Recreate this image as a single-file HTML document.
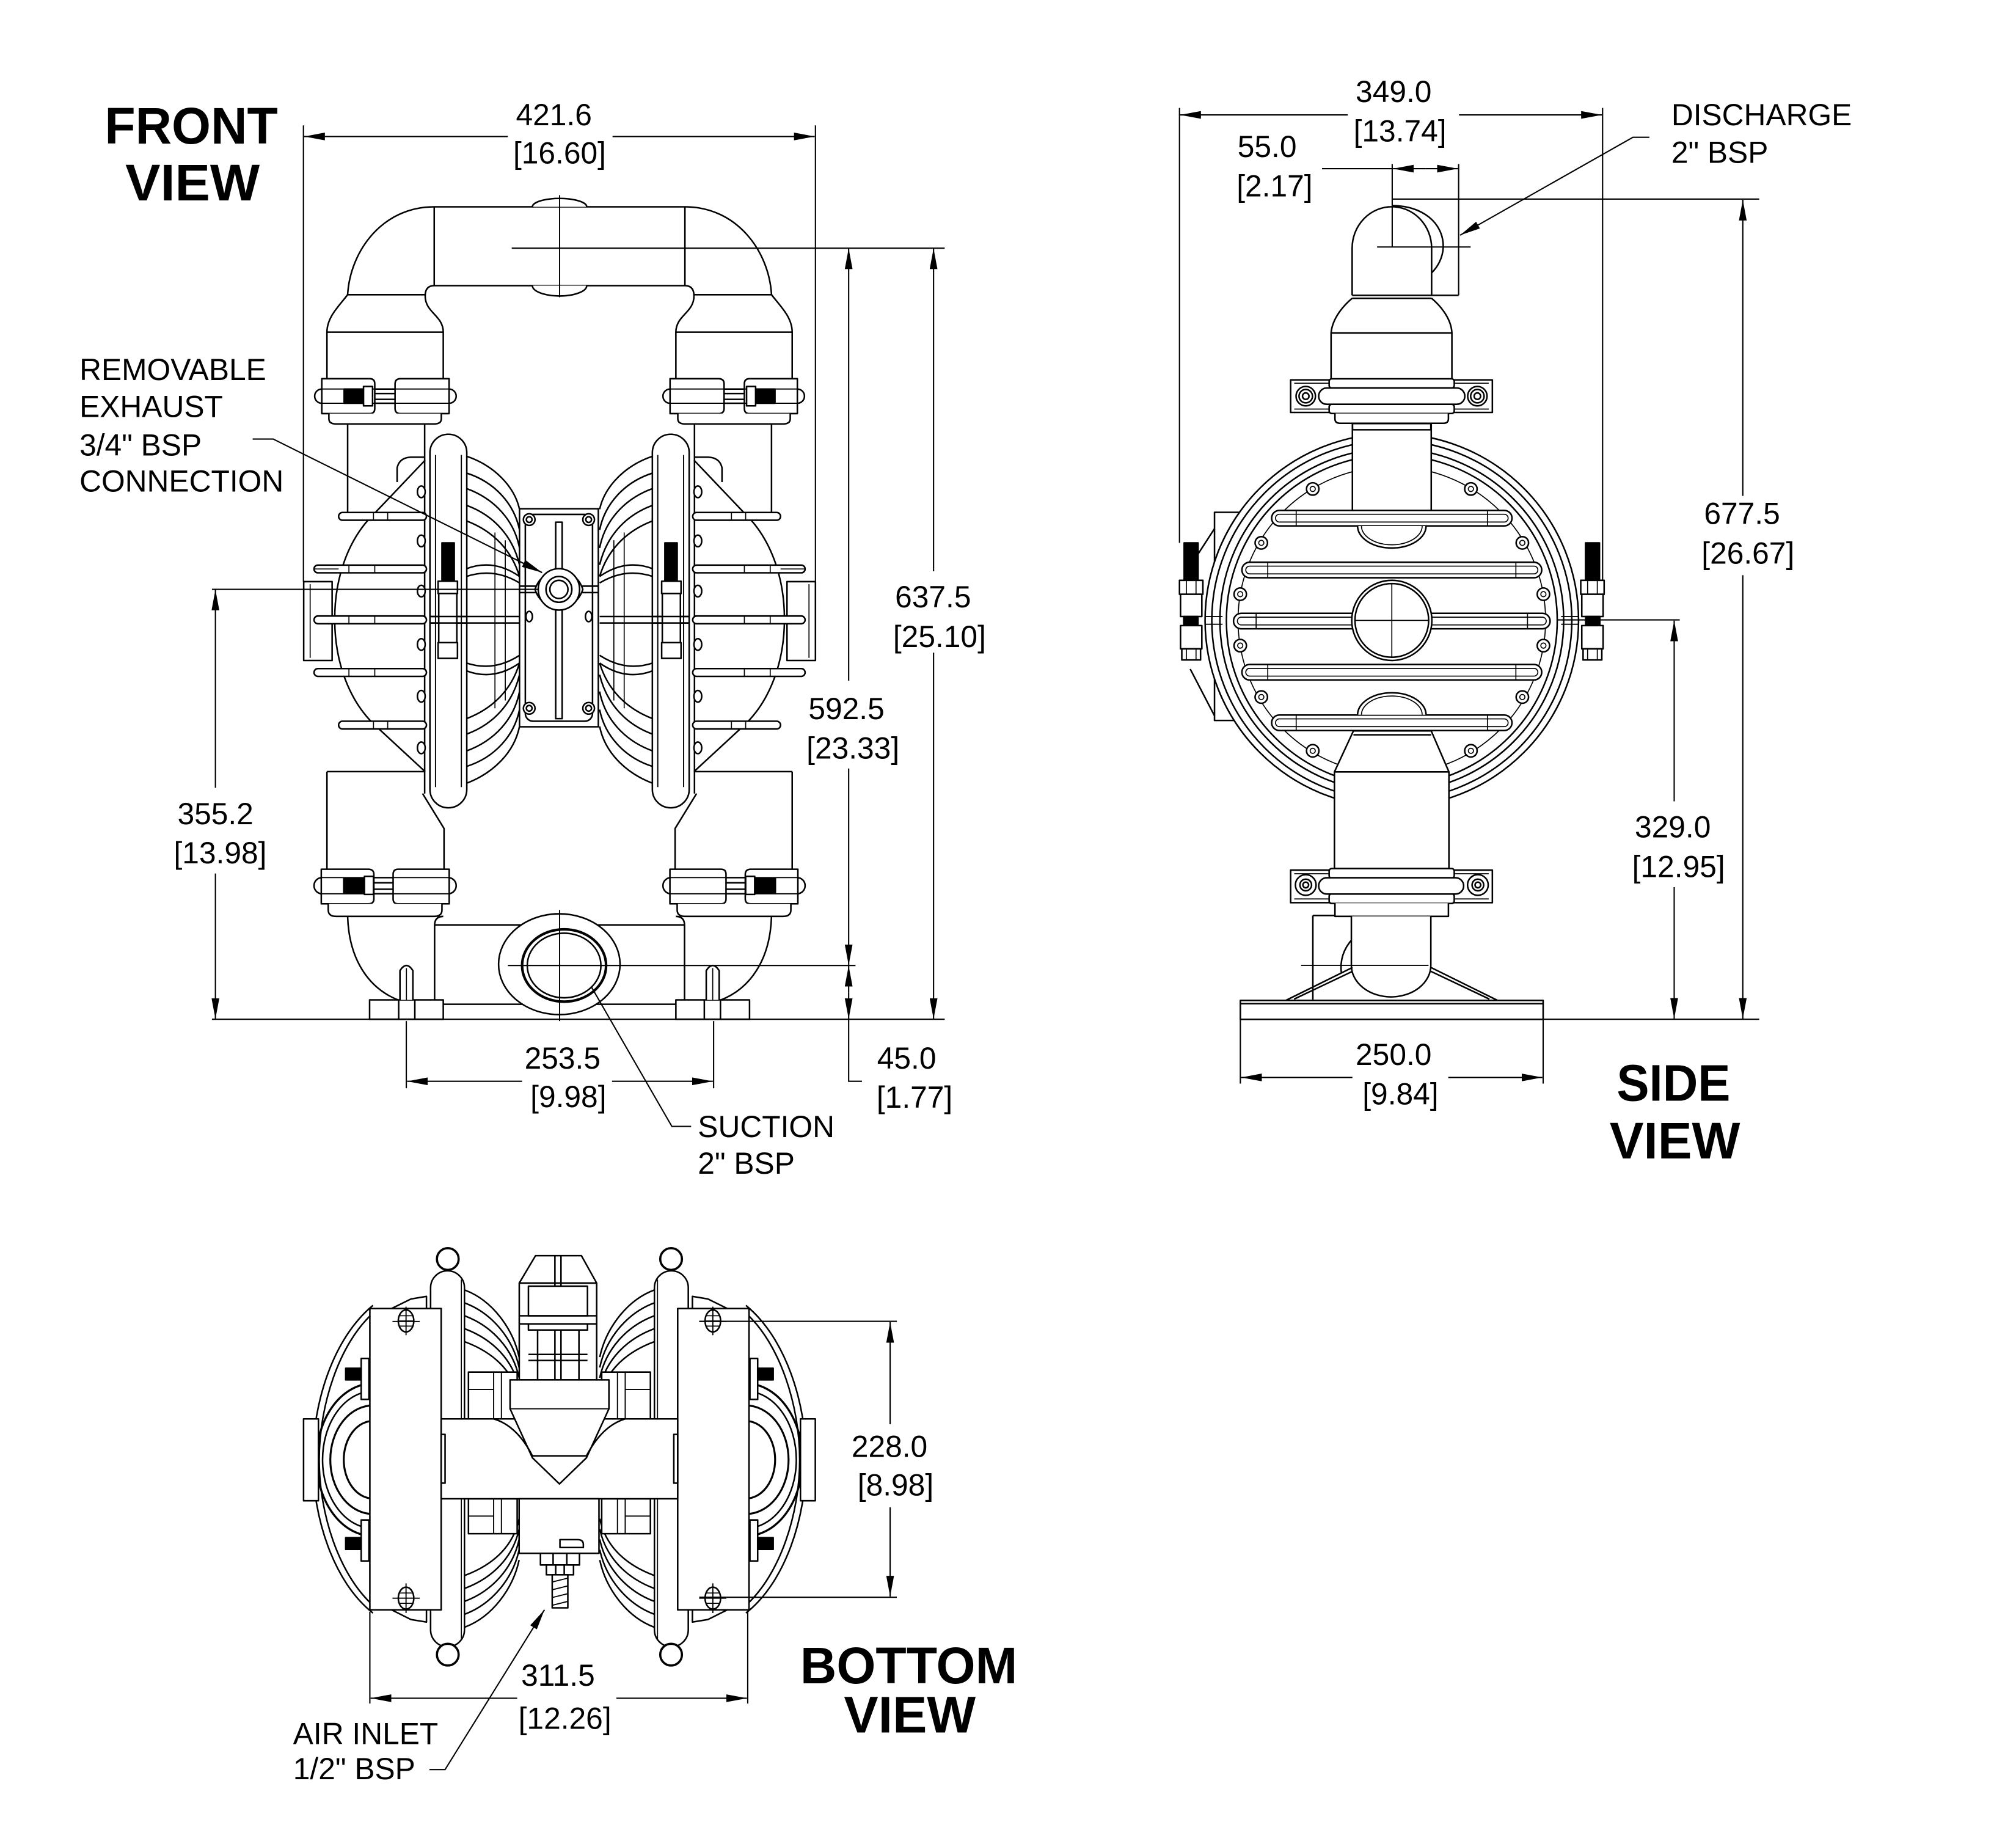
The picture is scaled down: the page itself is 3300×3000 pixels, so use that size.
<!DOCTYPE html>
<html><head><meta charset="utf-8"><style>
html,body{margin:0;padding:0;background:#fff}
svg{display:block}
text{font-family:"Liberation Sans",Arial,sans-serif;fill:#000;stroke:none}
.t{font-size:23.5px}
.ti{font-size:40px;font-weight:bold}
</style></head><body>
<svg width="3300" height="3000" viewBox="0 0 1560 1418.18" xmlns="http://www.w3.org/2000/svg">
<defs>
<marker id="a" viewBox="0 0 16 6" refX="16" refY="3" markerWidth="16" markerHeight="6" markerUnits="userSpaceOnUse" orient="auto"><path d="M0,0L16,3L0,6z" fill="#000" stroke="none"/></marker>
</defs>
<rect width="1560" height="1418.18" fill="#fff"/>

<g fill="none" stroke="#000" stroke-width="1.2" stroke-linejoin="round">

<!-- ================= FRONT VIEW ================= -->
<g id="FL">
 <path d="M433 160H336C296 160 271 194 269 228"/>
 <path d="M336 160V221"/>
 <path d="M433 221H336Q329 221 329 229C329 242 343 244 343 257"/>
 <path d="M269 228C263 236 253 245 253 257V293"/>
 <path d="M269 228H329M253 257H343V293"/>
 <!-- upper clamp -->
 <rect x="243.5" y="301" width="109.5" height="11" rx="5.5" fill="#fff"/>
 <path d="M249 293H286Q290 293 290 297V316Q290 320 286 320H249Z" fill="#fff"/>
 <path d="M347.5 293H310Q305.7 293 305.7 297V316Q305.7 320 310 320H347.5Z" fill="#fff"/>
 <path d="M249 301H290M249 312H290M347.5 301H305.7M347.5 312H305.7" stroke-width="0.9"/>
 <rect x="266.3" y="301" width="15" height="11" fill="#000"/>
 <rect x="281.3" y="299" width="7" height="15" fill="#fff"/>
 <path d="M290 304.5H305.7M290 309H305.7"/>
 <path d="M254.5 320V324Q254.5 328 260 328H336Q341.5 328 341.5 324V320" fill="#fff"/>
 <!-- neck & chamber -->
 <path d="M269 328V397"/>
 <path d="M328.6 328V614"/>
 <path d="M307.3 373V362Q309 354 318 353.7H329"/>
 <path d="M329 356L290 397C270 416 259 446 259 479C259 512 270 542 290 561L329 597"/>
 <rect x="235" y="450" width="22" height="61" fill="#fff"/>
 <path d="M240 452V509" stroke-width="0.8"/>
 <rect x="262" y="396.5" width="68" height="6" rx="3" fill="#fff"/>
 <rect x="243" y="437.2" width="87" height="6" rx="3" fill="#fff"/>
 <rect x="243" y="476.6" width="87" height="6" rx="3" fill="#fff"/>
 <rect x="243" y="517.3" width="87" height="6" rx="3" fill="#fff"/>
 <rect x="262" y="558" width="68" height="6" rx="3" fill="#fff"/>
 <path d="M289 396.5V402.5M300 396.5V402.5M262 440.2H243M270 437.2V443.2M290 437.2V443.2M270 476.6V482.6M290 476.6V482.6M270 517.3V523.3M290 517.3V523.3M289 558V564M300 558V564" stroke-width="0.8"/>
 <path d="M253 597H329M253 597V672"/>
 <path d="M327 614L343.6 641V672"/>
 <!-- bolts on flange -->
 <ellipse cx="326" cy="380.5" rx="3" ry="4.5" fill="#fff"/>
 <ellipse cx="326" cy="418.5" rx="3" ry="4.5" fill="#fff"/>
 <ellipse cx="326" cy="457.3" rx="3" ry="4.5" fill="#fff"/>
 <ellipse cx="326" cy="498.6" rx="3" ry="4.5" fill="#fff"/>
 <ellipse cx="326" cy="538.7" rx="3" ry="4.5" fill="#fff"/>
 <ellipse cx="326" cy="578.6" rx="3" ry="4.5" fill="#fff"/>
 <!-- dome ribs -->
 <path d="M361 353C382 360 398 376 402 394"/>
 <path d="M361 606C382 598 398 582 402 562"/>
 <path d="M361 366C383 373 398 390 402 410M361 378C383 386 398 403 402 424M361 391C383 399 397 416 402 437M361 403C382 411 396 426 402 446"/>
 <path d="M361 593C383 586 398 569 402 549M361 581C383 573 398 556 402 535M361 568C383 560 397 543 402 522M361 556C382 548 396 533 402 513"/>
 <path d="M361 440Q382 432 402 446M361 446Q382 439 402 451M361 519Q382 527 402 513M361 513Q382 520 402 507"/>
 <path d="M383 412V548M391 418V542" stroke-width="0.8"/>
 <path d="M333 477H402M333 482H402"/>
 <!-- ring -->
 <rect x="332.7" y="336" width="28.5" height="289" rx="14.2" fill="#fff"/>
 <path d="M337 352V609M357 352V609" stroke-width="0.9"/>
 <path d="M333 477H361M333 482H361"/>
 <!-- tie bolt -->
 <rect x="342" y="420" width="9.5" height="30" fill="#000"/>
 <rect x="339" y="449.7" width="15" height="9.5" fill="#fff"/>
 <rect x="339.5" y="459.2" width="14" height="38" fill="#fff"/>
 <path d="M333 477H361M333 482H361"/>
 <rect x="339" y="497.2" width="15" height="12.2" fill="#fff"/>
 <!-- lower clamp -->
 <rect x="243" y="679" width="110" height="12.5" rx="6.2" fill="#fff"/>
 <path d="M248.6 672.5H285Q289.3 672.5 289.3 676.5V695.5Q289.3 699.3 285 699.3H248.6Z" fill="#fff"/>
 <path d="M347.6 672.5H308Q304.2 672.5 304.2 676.5V695.5Q304.2 699.3 308 699.3H347.6Z" fill="#fff"/>
 <path d="M248.6 679H289.3M248.6 691.5H289.3M347.6 679H304.2M347.6 691.5H304.2" stroke-width="0.9"/>
 <rect x="266" y="679.5" width="16" height="11" fill="#000"/>
 <rect x="282" y="678" width="7" height="14" fill="#fff"/>
 <path d="M289.3 683H304.2M289.3 688H304.2"/>
 <path d="M254 699.3V704Q254 709 260 709H336Q342 709 342 704V699.3" fill="#fff"/>
 <!-- lower elbow -->
 <path d="M269 709C270 742 285 765 309 774"/>
 <path d="M343 709Q336.3 709 336.3 716V777"/>
 <path d="M336.3 715.6H433M343 777H433"/>
 <!-- foot -->
 <rect x="286" y="773.6" width="57" height="15" fill="#fff"/>
 <path d="M308.5 773.6V788.6M321 773.6V788.6"/>
 <path d="M309.5 773.6V751Q314.5 743 319.5 751V773.6" fill="#fff"/>
 <path d="M314.5 749V773.6" stroke-width="0.8"/>
</g>
<use href="#FL" transform="matrix(-1 0 0 1 866 0)"/>

<!-- top flange bumps & centerline -->
<path d="M412 160A21 6.5 0 0 1 454 160" fill="#fff"/>
<path d="M412 221A21 8 0 0 0 454 221" fill="#fff"/>
<path d="M433 151V230" stroke-width="0.9"/>

<!-- center block -->
<rect x="402" y="393.6" width="61" height="168.7" fill="#fff"/>
<rect x="406.5" y="398" width="52" height="160" rx="6"/>
<circle cx="409.5" cy="402" r="4.5" fill="#fff"/><circle cx="409.5" cy="402" r="2.2"/>
<circle cx="455.5" cy="402" r="4.5" fill="#fff"/><circle cx="455.5" cy="402" r="2.2"/>
<circle cx="409.5" cy="548" r="4.5" fill="#fff"/><circle cx="409.5" cy="548" r="2.2"/>
<circle cx="455.5" cy="548" r="4.5" fill="#fff"/><circle cx="455.5" cy="548" r="2.2"/>
<rect x="430" y="404" width="5" height="152"/>
<ellipse cx="409.5" cy="477" rx="2.5" ry="4"/>
<ellipse cx="455.5" cy="477" rx="2.5" ry="4"/>
<path d="M402 453.5H415M402 458.5H415M450 453.5H463M450 458.5H463"/>
<path d="M414 456C420 437 445 437 451 456C445 475 420 475 414 456Z" fill="#fff"/>
<circle cx="432.5" cy="456" r="16" fill="#fff"/>
<circle cx="432.5" cy="456" r="10"/>
<circle cx="432.5" cy="456" r="7"/>

<!-- suction port -->
<ellipse cx="432.8" cy="746" rx="47" ry="39" fill="#fff"/>
<ellipse cx="436.5" cy="747" rx="32.5" ry="28" fill="#fff" stroke-width="2"/>
<ellipse cx="436.5" cy="747" rx="28.5" ry="25"/>
<path d="M433 704V790" stroke-width="0.9"/>

<!-- ================= SIDE VIEW ================= -->
<path d="M939.8 396.4H962V557.4H939.8Z" fill="#fff"/>
<path d="M939.8 409L921 438M921 517.6L939.8 553.8"/>
<circle cx="1077" cy="480" r="144.5" fill="#fff"/>
<circle cx="1077" cy="480" r="139.3"/>
<circle cx="1077" cy="480" r="133"/>
<circle cx="1077" cy="480" r="128"/>
<circle cx="1077" cy="480" r="119" stroke-width="0.8"/>
<path d="M932.5 477H946M932.5 483H946M1208 477H1221.5M1208 483H1221.5" stroke-width="0.9"/>
<!-- top pipe -->
<rect x="1046.5" y="327.7" width="61" height="70" fill="#fff"/>
<!-- bolt ovals -->
<g fill="#fff">
<circle cx="1015.8" cy="378.3" r="4.8"/><circle cx="1138.2" cy="378.3" r="4.8"/>
<circle cx="976" cy="420" r="4.8"/><circle cx="1178" cy="420" r="4.8"/>
<circle cx="959.7" cy="459.7" r="4.8"/><circle cx="1194.3" cy="459.7" r="4.8"/>
<circle cx="959.7" cy="499.5" r="4.8"/><circle cx="1194.3" cy="499.5" r="4.8"/>
<circle cx="976" cy="539.3" r="4.8"/><circle cx="1178" cy="539.3" r="4.8"/>
<circle cx="1015.8" cy="580.9" r="4.8"/><circle cx="1138.2" cy="580.9" r="4.8"/>
</g>
<g stroke-width="0.8">
<circle cx="1015.8" cy="378.3" r="2"/><circle cx="1138.2" cy="378.3" r="2"/>
<circle cx="976" cy="420" r="2"/><circle cx="1178" cy="420" r="2"/>
<circle cx="959.7" cy="459.7" r="2"/><circle cx="1194.3" cy="459.7" r="2"/>
<circle cx="959.7" cy="499.5" r="2"/><circle cx="1194.3" cy="499.5" r="2"/>
<circle cx="976" cy="539.3" r="2"/><circle cx="1178" cy="539.3" r="2"/>
<circle cx="1015.8" cy="580.9" r="2"/><circle cx="1138.2" cy="580.9" r="2"/>
</g>
<!-- bars -->
<rect x="984" y="394.9" width="186" height="12" rx="6" fill="#fff"/>
<rect x="961" y="435" width="232" height="12" rx="6" fill="#fff"/>
<rect x="954.5" y="474.5" width="245" height="12" rx="6" fill="#fff"/>
<rect x="961" y="514.1" width="232" height="12" rx="6" fill="#fff"/>
<rect x="984" y="553.2" width="186" height="12" rx="6" fill="#fff"/>
<g stroke-width="0.8">
<rect x="987" y="397.9" width="180" height="6" rx="3"/>
<rect x="964" y="438" width="226" height="6" rx="3"/>
<rect x="957.5" y="477.5" width="239" height="6" rx="3"/>
<rect x="964" y="517.1" width="226" height="6" rx="3"/>
<rect x="987" y="556.2" width="180" height="6" rx="3"/>
<path d="M1003 394.9V406.9M1151 394.9V406.9M981 435V447M1173 435V447M972 474.5V486.5M1182 474.5V486.5M981 514.1V526.1M1173 514.1V526.1M1003 553.2V565.2M1151 553.2V565.2"/>
</g>
<!-- half discs and center circle -->
<path d="M1050.5 407A26.5 17 0 0 0 1103.5 407" fill="#fff"/>
<path d="M1053.5 407A23.5 14.5 0 0 0 1100.5 407" stroke-width="0.8"/>
<path d="M1050.5 553A26.5 17 0 0 1 1103.5 553" fill="#fff"/>
<path d="M1053.5 553A23.5 14.5 0 0 1 1100.5 553" stroke-width="0.8"/>
<circle cx="1077" cy="480" r="31" fill="#fff"/>
<circle cx="1077" cy="480" r="28.5"/>
<path d="M1077 451V509M1048 480H1106" stroke-width="0.8"/>
<!-- lower pipe -->
<path d="M1047.3 565.5H1107.5L1121.2 597.2V672H1032.6V597.2Z" fill="#fff"/>
<path d="M1032.6 597.2H1121.2M1047.3 568.5H1107.5" />
<!-- discharge top -->
<path d="M1077.4 159.1C1100 159 1117 172 1116.8 191C1116.5 200 1112 207 1107.8 211.1"/>
<path d="M1046.3 228.5V192A30.7 32 0 0 1 1107.8 192V228.5" fill="#fff"/>
<path d="M1046.3 228.5H1128.7M1046.3 230.8H1107.8"/>
<path d="M1046.3 230.8C1040 236 1031 246 1030 257.6V293.9M1107.8 230.8C1114 236 1123 246 1123.5 257.6V293.9M1030 257.6H1123.5"/>
<!-- upper side clamp -->
<rect x="998.7" y="293.9" width="156.1" height="25.2" fill="#fff"/>
<path d="M1001.5 296.5H1152M1001.5 316.5H1152" stroke-width="0.8"/>
<circle cx="1010.4" cy="306.5" r="7.5" fill="#fff"/><circle cx="1010.4" cy="306.5" r="5.2"/><circle cx="1010.4" cy="306.5" r="2.5"/>
<circle cx="1143.2" cy="306.5" r="7.5" fill="#fff"/><circle cx="1143.2" cy="306.5" r="5.2"/><circle cx="1143.2" cy="306.5" r="2.5"/>
<rect x="1028.5" y="293.1" width="96.8" height="7.1" rx="2" fill="#fff"/>
<rect x="1028.5" y="312.8" width="96.8" height="7.1" rx="2" fill="#fff"/>
<rect x="1020.4" y="300.2" width="113.1" height="12.6" rx="6.3" fill="#fff"/>
<path d="M1033 319.9V324Q1033 327.5 1037 327.5H1117Q1120.8 327.5 1120.8 324V319.9" fill="#fff"/>
<path d="M1046.6 327.7V332.5H1107.2V327.7"/>
<!-- lower side clamp -->
<rect x="998.7" y="673.2" width="156.1" height="25.2" fill="#fff"/>
<path d="M1001.5 676H1152M1001.5 695.5H1152" stroke-width="0.8"/>
<circle cx="1010.4" cy="684.7" r="8" fill="#fff"/><circle cx="1010.4" cy="684.7" r="4.5"/><circle cx="1010.4" cy="684.7" r="2.2"/>
<circle cx="1143.6" cy="684.7" r="8" fill="#fff"/><circle cx="1143.6" cy="684.7" r="4.5"/><circle cx="1143.6" cy="684.7" r="2.2"/>
<rect x="1028.5" y="672" width="96.8" height="7.5" rx="2" fill="#fff"/>
<rect x="1028.5" y="691.5" width="96.8" height="7.5" rx="2" fill="#fff"/>
<rect x="1020.4" y="679.1" width="112.2" height="12.6" rx="6.3" fill="#fff"/>
<path d="M1033 698.8V709H1120.8V698.8" fill="#fff"/>
<!-- suction elbow side -->
<path d="M1015.9 708.3V773.3M1015.9 708.3H1033"/>
<path d="M1046.6 726.4Q1036 738 1038 753.2"/>
<path d="M1045.7 709V746.9A30.75 24.4 0 0 0 1107.2 746.9V709" fill="#fff"/>
<path d="M1006.8 746.9H1105.4" stroke-width="0.9"/>
<path d="M995 774L1046.6 748.5M1001.4 773L1046.6 751.5M1107.2 748.5L1158.8 774M1107.2 751.5L1152.5 773"/>
<rect x="959.8" y="774" width="234.3" height="14.7" fill="#fff"/>
<path d="M959.8 776.5H1194.1"/>
<!-- side bolts -->
<g id="SB">
 <rect x="916.3" y="420" width="10.8" height="29" fill="#000"/>
 <rect x="912.7" y="449" width="18.1" height="10.8" fill="#fff"/>
 <rect x="913.5" y="459.8" width="16.5" height="17.2" fill="#fff"/>
 <rect x="916" y="477" width="11" height="7" fill="#000"/>
 <rect x="913.5" y="484" width="16.5" height="18" fill="#fff"/>
 <rect x="914.5" y="502" width="14.5" height="8.6" fill="#fff"/>
 <path d="M918 449V459.8M925.5 449V459.8M918 502V510.6M925.5 502V510.6" stroke-width="0.8"/>
</g>
<use href="#SB" transform="matrix(-1 0 0 1 2154 0)"/>

<!-- ================= BOTTOM VIEW ================= -->
<g id="BL">
 <path d="M288.6 1010C258 1035 242 1085 242 1129.4C242 1174 258 1224 288.6 1248"/>
 <path d="M288.6 1016C262 1040 247 1088 247 1129.4C247 1171 262 1218 288.6 1242"/>
 <path d="M288.6 1070.4A43.7 59 0 0 0 288.6 1188.4" stroke-width="1.6"/>
 <path d="M288.6 1076.4A39 53 0 0 0 288.6 1182.4"/>
 <path d="M288.6 1087.4A33 42 0 0 0 288.6 1171.4" stroke-width="1.5"/>
 <path d="M288.6 1099.4A22.6 30 0 0 0 288.6 1159.4" stroke-width="1.5"/>
 <rect x="234.9" y="1097.8" width="11.5" height="63.3" fill="#fff"/>
 <rect x="279.5" y="1051" width="6" height="31.7" fill="#fff"/>
 <rect x="279.5" y="1176" width="6" height="31.7" fill="#fff"/>
 <rect x="267.5" y="1058.6" width="12" height="9" fill="#000"/>
 <rect x="267.5" y="1189.7" width="12" height="9" fill="#000"/>
 <!-- ribs -->
 <path d="M359.4 998C381 1006 397 1028 401.7 1050M359.4 1008C381 1016 397 1036 401.7 1058M359.4 1018C381 1026 397 1044 401.7 1066M359.4 1028C381 1036 397 1052 401.7 1074M359.4 1038C381 1046 397 1060 401.7 1082"/>
 <path d="M359.4 1259C381 1251 397 1229 401.7 1207M359.4 1249C381 1241 397 1221 401.7 1199M359.4 1239C381 1231 397 1213 401.7 1191M359.4 1229C381 1221 397 1205 401.7 1183M359.4 1219C381 1211 397 1197 401.7 1175"/>
 <rect x="362.5" y="1061.6" width="37.7" height="36.2" fill="#fff"/>
 <path d="M382 1061.6V1097.8M388 1061.6V1097.8M362.5 1075H382" stroke-width="0.9"/>
 <rect x="362.5" y="1159.6" width="37.7" height="27" fill="#fff"/>
 <path d="M382 1159.6V1186.6M388 1159.6V1186.6M362.5 1173H382" stroke-width="0.9"/>
 <!-- pill & plate -->
 <rect x="333.2" y="983.2" width="26.2" height="290.9" rx="13.1" fill="#fff"/>
 <path d="M357 990V1268" stroke-width="0.8"/>
 <circle cx="346.5" cy="974.1" r="8.4" fill="#fff" stroke-width="1.7"/>
 <circle cx="346.5" cy="1280.2" r="8.4" fill="#fff" stroke-width="1.7"/>
 <path d="M303 1012.4L318 1005L330 1003V1012.4" fill="#fff"/>
 <path d="M303 1245.5L318 1253L330 1255V1245.5" fill="#fff"/>
 <rect x="286.2" y="1012.4" width="55.2" height="233.1" fill="#fff"/>
 <ellipse cx="314.2" cy="1022" rx="6" ry="8.5" fill="#fff"/>
 <path d="M309 1018H319.5M308.5 1022H320M309 1026H319.5" stroke-width="0.8"/>
 <path d="M303.7 1022.4H324.8M314.2 1011V1033" stroke-width="0.9"/>
 <ellipse cx="314.2" cy="1236.5" rx="6" ry="8.5" fill="#fff"/>
 <path d="M309 1232.5H319.5M308.5 1236.5H320M309 1240.5H319.5" stroke-width="0.8"/>
 <path d="M303.7 1236.5H324.8M314.2 1225V1248" stroke-width="0.9"/>
</g>
<use href="#BL" transform="matrix(-1 0 0 1 865.8 0)"/>

<!-- center bar -->
<rect x="341.4" y="1097.8" width="183" height="61.8" fill="#fff"/>
<rect x="341.4" y="1109.8" width="3" height="37.7"/>
<rect x="521.4" y="1109.8" width="3" height="37.7"/>
<!-- upper block -->
<path d="M401.8 1067.6V992.7L414.4 971.5H449.9L461.7 992.7V1067.6Z" fill="#fff"/>
<path d="M401.8 992.7H461.7"/>
<path d="M429.4 971.5V995M434.1 971.5V995"/>
<rect x="408.9" y="995.1" width="45.7" height="22.9"/>
<path d="M401.8 1018H461.7M401.8 1024.3H461.7"/>
<path d="M408.9 1024.3V1029H454.6V1024.3M416 1029V1067.6M429.4 1029V1067.6M434.1 1029V1067.6M448 1029V1067.6M408.9 1047.9H454.6M408.9 1052.6H454.6"/>
<!-- air valve V -->
<path d="M394.7 1067.6H471.2V1090L453.8 1127.9L432.9 1148.1L412 1127.9L394.7 1090Z" fill="#fff"/>
<path d="M412 1126.4H453.8"/>
<path d="M382 1097.8Q400 1103 412 1126.4M483.8 1097.8Q466 1103 453.8 1126.4"/>
<path d="M394.7 1090H471.2" stroke-width="0.8"/>
<!-- lower block & fitting -->
<rect x="401.7" y="1159.6" width="61.8" height="42.2" fill="#fff"/>
<path d="M433.3 1197.3V1191.2H447Q451.4 1191.2 451.4 1195V1197.3Z"/>
<rect x="418.2" y="1201.8" width="30.2" height="9" fill="#fff"/>
<path d="M428 1201.8V1210.8M438.6 1201.8V1210.8"/>
<rect x="422.8" y="1210.8" width="21" height="7.6" fill="#fff"/>
<path d="M430 1210.8V1218.4M436.6 1210.8V1218.4"/>
<rect x="427.3" y="1218.4" width="12.1" height="25.6" fill="#fff"/>
<path d="M427.3 1224L439.4 1221M427.3 1230L439.4 1227M427.3 1236L439.4 1233M427.3 1242L439.4 1239" stroke-width="0.9"/>
</g>

<!-- ================= DIMENSIONS ================= -->
<g fill="none" stroke="#000" stroke-width="1">
<!-- front -->
<path d="M234.8 97V450M631 97V450"/>
<path d="M393 105.6H235.4" marker-end="url(#a)"/>
<path d="M474 105.6H630.4" marker-end="url(#a)"/>
<path d="M396 192H731"/>
<path d="M722.4 442V192.2" marker-end="url(#a)"/>
<path d="M722.4 505V788.4" marker-end="url(#a)"/>
<path d="M656.7 526.6V192.2" marker-end="url(#a)"/>
<path d="M656.7 594.6V746.8" marker-end="url(#a)"/>
<path d="M393 747H662"/>
<path d="M656.7 768V747.2" marker-end="url(#a)"/>
<path d="M656.7 768V788.4" marker-end="url(#a)"/>
<path d="M656.7 788.6V836.6H667"/>
<path d="M164 788.6H731"/>
<path d="M164 456H416"/>
<path d="M166.7 609.5V456.2" marker-end="url(#a)"/>
<path d="M166.7 675.8V788.4" marker-end="url(#a)"/>
<path d="M314.4 790V842M552.2 790V842"/>
<path d="M404 836.6H315" marker-end="url(#a)"/>
<path d="M473.6 836.6H551.6" marker-end="url(#a)"/>
<path d="M457.7 763.7L519.9 871.5H534.8"/>
<path d="M195.5 339.7H211.4L419.5 443" marker-end="url(#a)"/>
<!-- side -->
<path d="M912.7 83.5V420M1240.1 83.5V449"/>
<path d="M1042.9 88.9H913.3" marker-end="url(#a)"/>
<path d="M1129 88.9H1239.5" marker-end="url(#a)"/>
<path d="M1077.3 126.9V191M1128.7 126.9V228.5"/>
<path d="M1023 130.5H1077.3"/>
<path d="M1103 130.5H1077.9" marker-end="url(#a)"/>
<path d="M1103 130.5H1128.1" marker-end="url(#a)"/>
<path d="M1065.6 191.1H1138"/>
<path d="M1276.3 106.2H1263.6L1129.8 182" marker-end="url(#a)"/>
<path d="M1077.3 154H1361.3"/>
<path d="M1348.6 383.7V154.6" marker-end="url(#a)"/>
<path d="M1348.6 445V788.2" marker-end="url(#a)"/>
<path d="M1205 479.6H1299.8"/>
<path d="M1295.5 620V480.2" marker-end="url(#a)"/>
<path d="M1295.5 686.4V788.2" marker-end="url(#a)"/>
<path d="M1194.1 788.6H1361.3"/>
<path d="M959.8 788.6V838.4M1194.1 788.6V838.4"/>
<path d="M1046.5 833.6H960.4" marker-end="url(#a)"/>
<path d="M1120.7 833.6H1193.5" marker-end="url(#a)"/>
<!-- bottom -->
<path d="M286.2 1247V1318M578.6 1247V1318"/>
<path d="M400.2 1313.9H286.8" marker-end="url(#a)"/>
<path d="M477 1313.9H578" marker-end="url(#a)"/>
<path d="M541.1 1022.3H694M541.1 1235.8H694"/>
<path d="M688.8 1101.9V1022.9" marker-end="url(#a)"/>
<path d="M688.8 1166.2V1235.2" marker-end="url(#a)"/>
<path d="M332.3 1369.1H344.4L421.3 1245.5" marker-end="url(#a)"/>
</g>

<!-- ================= TEXT ================= -->
<g class="t" text-anchor="middle">
<text x="428.6" y="97">421.6</text>
<text x="433" y="126.5">[16.60]</text>
<text x="722" y="470">637.5</text>
<text x="727" y="500.5">[25.10]</text>
<text x="655" y="556.5">592.5</text>
<text x="660" y="587">[23.33]</text>
<text x="166.7" y="637.7">355.2</text>
<text x="170.4" y="668">[13.98]</text>
<text x="435.3" y="826.7">253.5</text>
<text x="439.8" y="856.5">[9.98]</text>
<text x="701.6" y="826.7">45.0</text>
<text x="707.7" y="857">[1.77]</text>
<text x="1078.4" y="79">349.0</text>
<text x="1083.3" y="109.5">[13.74]</text>
<text x="980.5" y="121.4">55.0</text>
<text x="986.3" y="152">[2.17]</text>
<text x="1348" y="405.4">677.5</text>
<text x="1352.6" y="436">[26.67]</text>
<text x="1294.4" y="647.8">329.0</text>
<text x="1298.9" y="678.5">[12.95]</text>
<text x="1078.4" y="824">250.0</text>
<text x="1083.7" y="854.5">[9.84]</text>
<text x="431.8" y="1304.3">311.5</text>
<text x="437.1" y="1337.5">[12.26]</text>
<text x="688.3" y="1127.2">228.0</text>
<text x="693" y="1157">[8.98]</text>
</g>
<g class="t">
<text x="61.5" y="294">REMOVABLE</text>
<text x="61.5" y="322.6">EXHAUST</text>
<text x="61.5" y="352.5">3/4" BSP</text>
<text x="61.5" y="380.4">CONNECTION</text>
<text x="540" y="879.7">SUCTION</text>
<text x="540" y="908">2" BSP</text>
<text x="1293.3" y="96.8">DISCHARGE</text>
<text x="1293.3" y="126">2" BSP</text>
<text x="226.8" y="1349.5">AIR INLET</text>
<text x="226.8" y="1376.6">1/2" BSP</text>
</g>
<g class="ti">
<text x="81" y="111" textLength="134" lengthAdjust="spacingAndGlyphs">FRONT</text>
<text x="97" y="155" textLength="104" lengthAdjust="spacingAndGlyphs">VIEW</text>
<text x="1251" y="851.7" textLength="88" lengthAdjust="spacingAndGlyphs">SIDE</text>
<text x="1245.5" y="896.3" textLength="101" lengthAdjust="spacingAndGlyphs">VIEW</text>
<text x="619.2" y="1302.3" textLength="168" lengthAdjust="spacingAndGlyphs">BOTTOM</text>
<text x="653" y="1340.5" textLength="102" lengthAdjust="spacingAndGlyphs">VIEW</text>
</g>
</svg>
</body></html>
